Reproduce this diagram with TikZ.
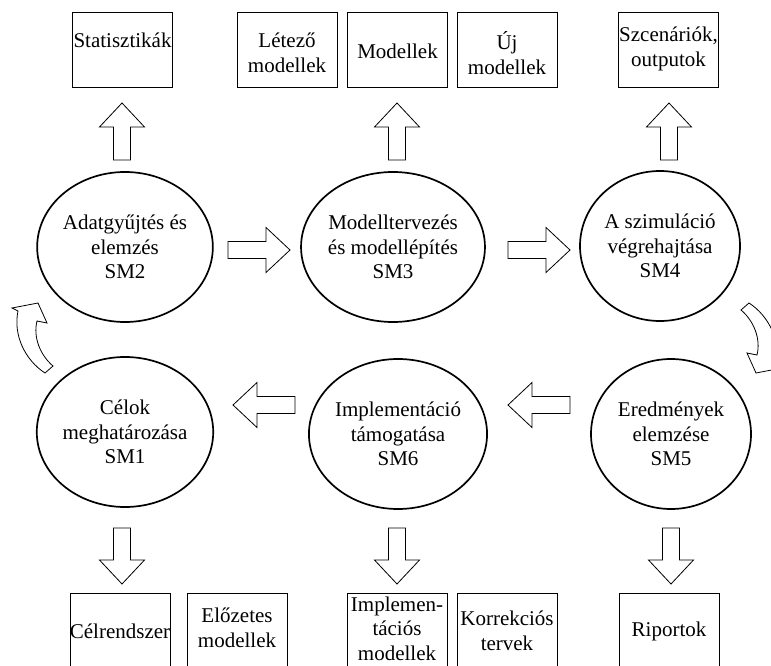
\documentclass[tikz,border=0pt]{standalone}
\usepackage{fontspec}
\setmainfont{Liberation Serif}
\usetikzlibrary{shapes.geometric}
\newcommand{\blkarrow}[3]{%
  \draw[barrow, shift={#1}, rotate=#2] (0,-8.5) -- ({#3-24},-8.5) -- ({#3-24},-22.5) -- (#3,0) -- ({#3-24},22.5) -- ({#3-24},8.5) -- (0,8.5) -- cycle;}
\begin{document}
\begin{tikzpicture}[x=1pt,y=-1pt,
  txt/.style={font=\fontsize{21}{24.5}\selectfont, align=center},
  box/.style={draw, line width=1pt, minimum width=100pt, minimum height=75pt, inner sep=0pt},
  sm/.style={txt, draw, ellipse, line width=1.7pt, minimum width=160pt, minimum height=150pt, inner sep=0pt},
  barrow/.style={draw, line width=0.8pt, fill=white, line join=miter},
  carrow/.style={draw, line width=0.8pt, fill=white, line join=miter}]
\useasboundingbox (0,0) rectangle (771,666);
\clip (0,0) rectangle (771,666);
% top boxes
\node[box] (stat) at (122.5,50.5) {};
\node[txt] (statt) at (122.5,40) {Statisztikák};
\node[box] (letezo) at (287,50.5) {};
\node[txt] (letezot) at (287,53) {Létező\\modellek};
\node[box] (modellek) at (397.5,50.5) {};
\node[txt] (modellekt) at (397.5,51) {Modellek};
\node[box] (uj) at (507,50.5) {};
\node[txt] (ujt) at (507,53) {Új\\modellek};
\node[box] (szcen) at (668.5,50.5) {};
\node[txt] (szcent) at (668.5,49) {Szcenáriók,\\outputok};
% circles
\node[sm] (sm2) at (125,247) {Adatgyűjtés és\\elemzés\\SM2};
\node[sm] (sm3) at (393,247) {Modelltervezés\\és modellépítés\\SM3};
\node[sm] (sm4) at (660,246) {A szimuláció\\végrehajtása\\SM4};
\node[sm] (sm1) at (125,432) {Célok\\meghatározása\\SM1};
\node[sm] (sm6) at (398,434) {Implementáció\\támogatása\\SM6};
\node[sm] (sm5) at (671,434) {Eredmények\\elemzése\\SM5};
% bottom boxes
\node[box] (celr) at (120,630.5) {};
\node[txt] (celrt) at (120,631) {Célrendszer};
\node[box] (eloz) at (237,630.5) {};
\node[txt] (elozt) at (237,628) {Előzetes\\modellek};
\node[box] (impl) at (397,630.5) {};
\node[txt] (implt) at (397,628.5) {Implemen-\\tációs\\modellek};
\node[box] (korr) at (507,630.5) {};
\node[txt] (korrt) at (507,631) {Korrekciós\\tervek};
\node[box] (rip) at (669,630.5) {};
\node[txt] (ript) at (669,631) {Riportok};
% up arrows
\blkarrow{(122,160)}{90}{57}
\blkarrow{(397,160)}{90}{57}
\blkarrow{(669,160)}{90}{57}
% down arrows
\blkarrow{(122,528)}{-90}{56}
\blkarrow{(397,528)}{-90}{56}
\blkarrow{(671,528)}{-90}{56}
% horizontal arrows
\blkarrow{(228,250)}{0}{62}
\blkarrow{(508,250)}{0}{62}
\blkarrow{(295,405)}{180}{62}
\blkarrow{(570,405)}{180}{62}
% curved arrows
\draw[carrow] (12,308) -- (38,303) -- (47,323) -- (37,321)
  .. controls (33,337) and (40,355) .. (53,366) -- (45,373)
  .. controls (25,360) and (13,335) .. (18,311) -- cycle;
\begin{scope}[rotate around={180:(397,338)}]
\draw[carrow] (12,308) -- (38,303) -- (47,323) -- (37,321)
  .. controls (33,337) and (40,355) .. (53,366) -- (45,373)
  .. controls (25,360) and (13,335) .. (18,311) -- cycle;
\end{scope}
\end{tikzpicture}
\end{document}
